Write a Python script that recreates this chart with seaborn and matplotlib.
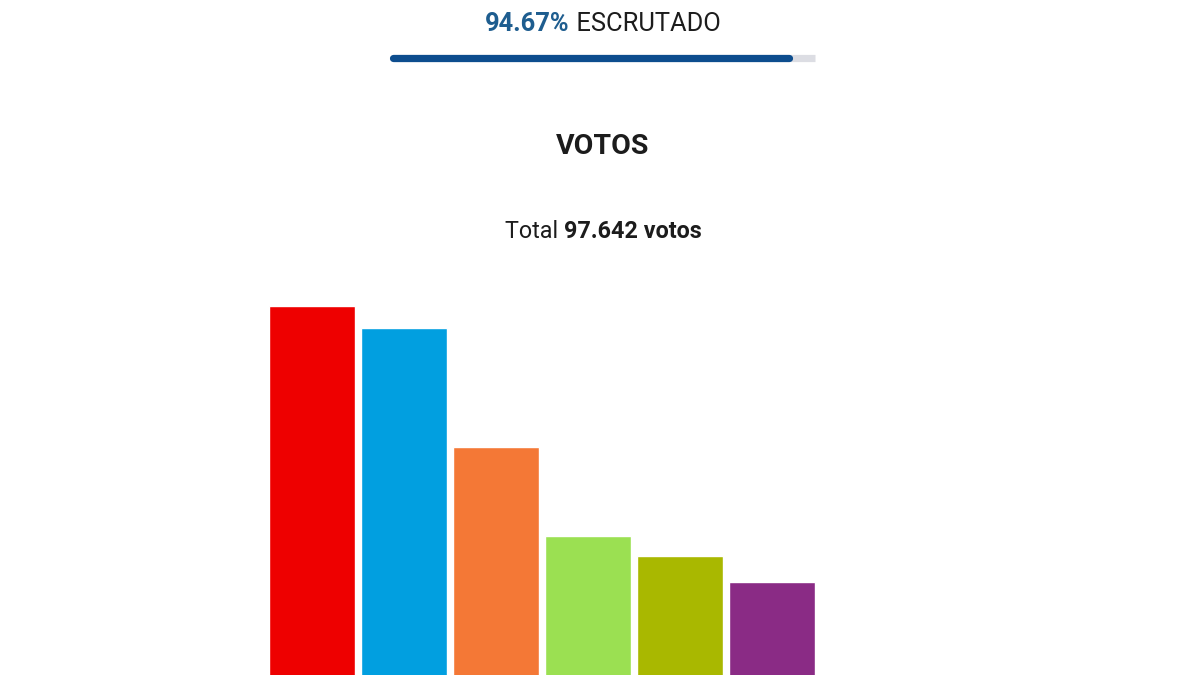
import matplotlib
matplotlib.use("Agg")
import matplotlib.pyplot as plt
import seaborn as sns
import pandas as pd

# data (bars are cut at the bottom, values estimated)
partidos = ["P1", "P2", "P3", "P4", "P5", "P6"]
votos = [21740, 20770, 15530, 11620, 10740, 9590]
colores = ["#ee0000", "#019fe0", "#f47836", "#9be052", "#a9b800", "#8a2b85"]
escrutado = 94.67
total_votos = "97.642"

sns.set_theme(style="white")
plt.rcParams["font.family"] = ["Roboto", "DejaVu Sans"]

fig = plt.figure(figsize=(12, 6.75), dpi=100)
W, H = 1200, 675


def fx(px):
    return px / W


def fy(py):
    return 1 - py / H


# bars: baseline sits below the visible area
base_px = 800
top_px = 280
ax = fig.add_axes([fx(266), fy(base_px), fx(818 - 266), (base_px - top_px) / H])
df = pd.DataFrame({"partido": partidos, "votos": votos})
sns.barplot(data=df, x="partido", y="votos", hue="partido", palette=colores,
            width=0.935, legend=False, ax=ax, saturation=1)
ax.set_xlim(-0.5, len(partidos) - 0.5)
ax.set_ylim(0, 22880)
ax.set_axis_off()

# progress bar
pax = fig.add_axes([0, 0, 1, 1])
pax.set_xlim(0, W)
pax.set_ylim(H, 0)
pax.set_axis_off()
x0, x1 = 393, 815
pax.plot([x0, x1], [58, 58], color="#dcdde3", lw=5.2, solid_capstyle="butt")
pax.plot([x0, x0 + (x1 - x0) * escrutado / 100 - 4], [58, 58], color="#0d4d8e",
         lw=5.2, solid_capstyle="round")

# header "94.67% ESCRUTADO" with two colours, centred together
t1 = pax.text(0, 24, f"{escrutado:.2f}%", color="#1e5d8f", fontsize=18.4,
              fontweight="bold", va="center", ha="left")
t2 = pax.text(0, 24, " ESCRUTADO", color="#1c1c1c", fontsize=18.4,
              va="center", ha="left")
t3 = pax.text(0, 232, "Total ", color="#1c1c1c", fontsize=16.8, va="center", ha="left")
t4 = pax.text(0, 232, f"{total_votos} votos", color="#1c1c1c", fontsize=16.8,
              fontweight="bold", va="center", ha="left")

fig.canvas.draw()
r = fig.canvas.get_renderer()
for a, b, cx in [(t1, t2, 603), (t3, t4, 603)]:
    wa = a.get_window_extent(r).width
    wb = b.get_window_extent(r).width
    start = cx - (wa + wb) / 2
    a.set_x(start)
    b.set_x(start + wa)

pax.text(603, 147, "VOTOS", color="#1c1c1c", fontsize=20.5, fontweight="bold",
         va="center", ha="center")

fig.savefig("out.png", dpi=100)
